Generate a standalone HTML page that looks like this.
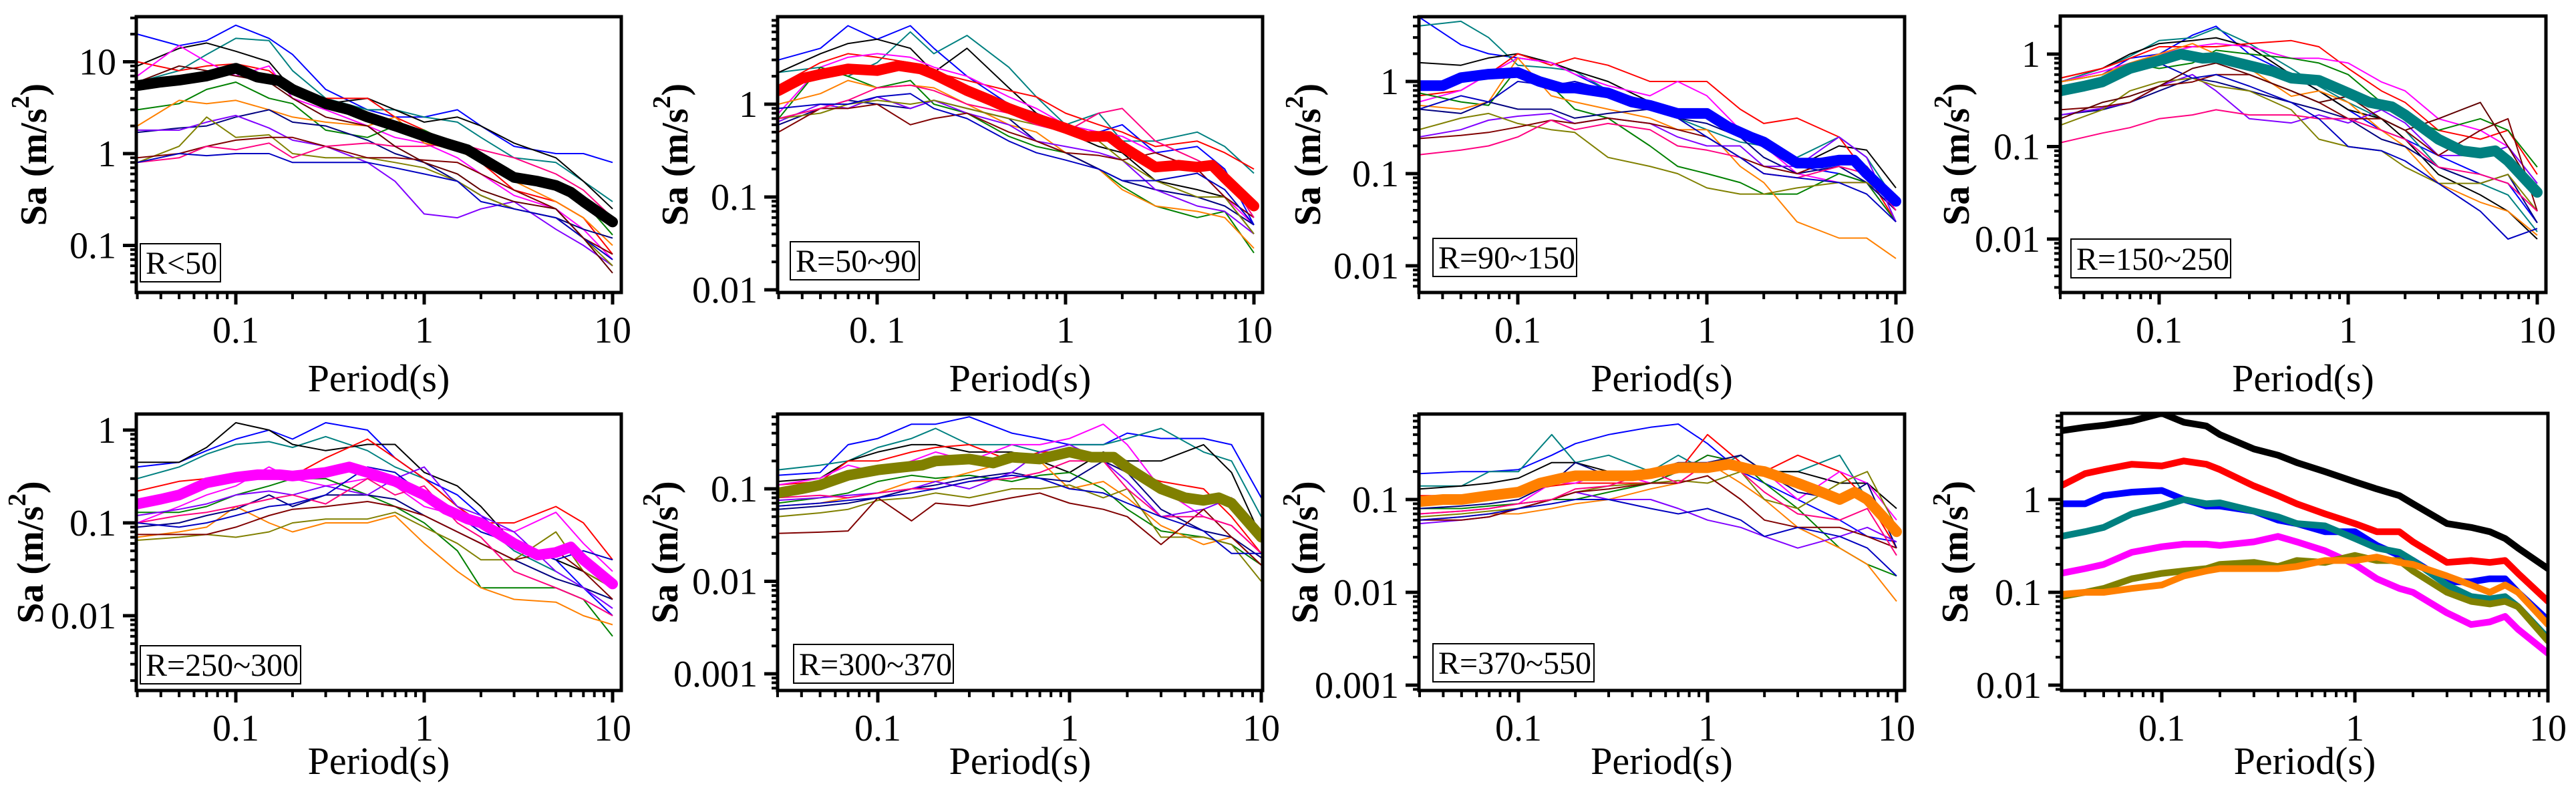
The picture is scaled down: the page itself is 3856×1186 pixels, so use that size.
<!DOCTYPE html>
<html><head><meta charset="utf-8">
<style>
html,body{margin:0;padding:0;background:#fff;}
svg{display:block;font-family:"Liberation Serif",serif;}
svg text{font-family:"Liberation Serif",serif;}
</style></head>
<body>
<svg id="fig" width="3856" height="1186" viewBox="0 0 3856 1186" font-family="Liberation Serif, serif" xmlns="http://www.w3.org/2000/svg"></svg>
<script>
// ---------- DATA ----------
const periodsMean = [0.03,0.04,0.05,0.07,0.1,0.13,0.17,0.2,0.3,0.4,0.5,0.7,1,1.3,1.7,2,3,4,5,6,7,10];
const periodsThin = [0.03,0.05,0.07,0.1,0.15,0.2,0.3,0.5,0.7,1,1.5,2,3,5,7,10];

const meanR50   = [5.5,6,6.3,7,8.5,6.8,6.2,5,3.5,3,2.5,2,1.55,1.3,1.1,0.9,0.55,0.5,0.45,0.38,0.3,0.18];
const meanR90   = [1.4,1.9,2.1,2.4,2.3,2.6,2.4,2.1,1.4,1.1,0.9,0.7,0.55,0.45,0.45,0.35,0.21,0.22,0.21,0.22,0.16,0.08];
const meanR150  = [0.9,0.9,1.1,1.2,1.25,1.0,0.85,0.85,0.75,0.6,0.55,0.45,0.45,0.32,0.25,0.22,0.13,0.13,0.14,0.14,0.1,0.05];
const meanR250  = [0.4,0.45,0.5,0.7,0.85,1.0,0.9,0.92,0.75,0.65,0.55,0.52,0.38,0.3,0.27,0.22,0.12,0.09,0.085,0.09,0.07,0.032];
const meanR300  = [0.16,0.18,0.2,0.27,0.31,0.33,0.33,0.32,0.35,0.4,0.35,0.28,0.2,0.14,0.11,0.1,0.06,0.045,0.048,0.055,0.04,0.022];
const meanR370  = [0.09,0.1,0.11,0.14,0.16,0.17,0.18,0.2,0.21,0.19,0.22,0.21,0.25,0.22,0.22,0.17,0.1,0.08,0.075,0.08,0.07,0.03];
const meanR550  = [0.095,0.1,0.1,0.11,0.12,0.15,0.17,0.18,0.18,0.18,0.19,0.22,0.22,0.24,0.21,0.2,0.15,0.12,0.1,0.12,0.1,0.045];

const thinR50 = [
[20,15,17,25,18,12,5,3,2.5,2.5,3,2,1.2,1,1,0.8],
[6,8,12,18,17,8,4,3,3,2.5,2.2,1.5,0.9,0.8,0.5,0.3],
[9,14,16,13,10,5,3.5,4,3,2.2,2.5,2,1.3,0.9,0.5,0.25],
[10,8,9,9.5,8,5,4,4,2.5,1.8,1.2,0.8,0.4,0.3,0.2,0.08],
[7,15,10,7,9,4,3,2,1.5,1.3,0.9,0.6,0.35,0.25,0.15,0.07],
[3,3.5,5,6,4,3.5,1.8,1.5,2,1.8,1.2,1.0,0.6,0.5,0.3,0.13],
[2,3.8,3.5,3.8,3,2.5,2.2,2,2.5,1.3,1.1,0.8,0.5,0.3,0.2,0.1],
[1.7,1.9,2,2.5,3,2.2,2,1.4,1,0.8,0.5,0.35,0.25,0.2,0.15,0.12],
[1.8,1.8,2.2,2.6,1.9,1.4,1.2,0.8,0.5,0.22,0.2,0.25,0.3,0.15,0.1,0.06],
[0.8,1.2,2.5,1.5,1.6,1,0.9,0.9,0.8,0.7,0.5,0.35,0.25,0.2,0.12,0.06],
[0.9,1.0,1.2,1.4,1.5,1.5,1.2,0.9,0.9,0.85,0.8,0.6,0.4,0.25,0.12,0.08],
[0.8,0.9,1.2,1.1,1.3,0.9,1.2,1.3,1.2,1.2,1.3,1.1,0.9,0.6,0.4,0.2],
[0.8,1.0,0.95,1.0,1.0,0.8,0.8,0.8,0.7,0.6,0.5,0.3,0.25,0.2,0.12,0.07],
[6,9,8,7,6,4,2.5,2,1.2,0.8,0.6,0.4,0.3,0.25,0.12,0.05]];
const thinR90 = [
[3,4,7,5,7,4,2,1,0.8,0.6,0.5,0.6,0.3,0.35,0.2,0.05],
[2.2,2.5,2.0,2.8,6,3.5,5.5,2.5,1.2,0.6,0.8,0.4,0.4,0.5,0.35,0.18],
[2.2,3.5,4.5,5,4,2.2,4,1.5,0.8,0.5,0.35,0.3,0.15,0.12,0.1,0.04],
[1.6,2.8,3.5,3.2,2.8,2.2,1.8,1.4,1.2,0.8,0.6,0.5,0.35,0.4,0.3,0.2],
[0.8,2.5,3.2,3.5,3.2,2.5,2.0,1.2,0.9,0.6,0.5,0.45,0.3,0.2,0.1,0.05],
[0.7,2.5,2.0,1.5,1.8,1.0,0.8,0.45,0.35,0.3,0.2,0.13,0.08,0.06,0.07,0.025],
[1.0,1.3,1.8,1.5,1.6,1.5,1.0,0.6,0.5,0.3,0.2,0.12,0.08,0.07,0.06,0.028],
[0.6,0.9,1.1,1.0,0.9,1.1,0.9,0.7,0.4,0.3,0.2,0.15,0.12,0.1,0.08,0.05],
[0.65,1.0,0.9,1.2,0.9,1.1,0.8,0.6,0.4,0.35,0.3,0.25,0.12,0.08,0.07,0.04],
[0.7,0.8,1.0,1.1,1.0,1.1,0.9,0.7,0.6,0.5,0.4,0.25,0.15,0.1,0.1,0.04],
[0.5,0.9,0.9,1.0,0.6,0.7,0.8,0.5,0.4,0.3,0.28,0.25,0.3,0.2,0.1,0.06],
[0.7,0.9,1.1,1.5,1.6,1.4,1.0,0.8,0.6,0.5,0.8,0.9,0.4,0.25,0.18,0.06],
[0.9,1.0,1.0,1.2,1.3,0.9,0.7,0.4,0.3,0.25,0.2,0.15,0.15,0.18,0.12,0.05]];
const thinR150 = [
[5,2.5,2,1.8,1.6,1.2,0.8,0.6,0.45,0.5,0.3,0.2,0.12,0.1,0.08,0.04],
[4,4.5,3,1.5,1.4,1.3,0.8,0.6,0.4,0.3,0.22,0.2,0.15,0.25,0.15,0.05],
[1.6,1.5,1.8,2.0,1.6,1.3,1.0,0.6,0.45,0.4,0.3,0.2,0.12,0.2,0.18,0.07],
[0.7,0.8,1.2,2.0,1.5,1.8,1.5,1.0,1.0,1.0,0.5,0.35,0.4,0.25,0.1,0.03],
[0.6,0.8,1.2,1.8,1.6,1.2,0.9,0.7,1.0,0.7,0.3,0.2,0.1,0.08,0.08,0.03],
[0.75,0.6,0.55,1.4,0.9,0.5,0.4,0.2,0.12,0.1,0.08,0.06,0.06,0.1,0.08,0.03],
[0.55,0.5,0.6,1.8,0.7,0.6,0.5,0.4,0.3,0.3,0.12,0.08,0.03,0.02,0.02,0.012],
[0.5,0.45,0.6,0.5,0.5,0.4,0.45,0.5,0.4,0.35,0.25,0.15,0.1,0.12,0.08,0.04],
[0.25,0.3,0.38,0.42,0.45,0.35,0.4,0.35,0.25,0.2,0.2,0.12,0.12,0.25,0.15,0.03],
[0.3,0.4,0.45,0.35,0.3,0.28,0.15,0.12,0.1,0.07,0.06,0.06,0.07,0.08,0.08,0.05],
[0.24,0.26,0.28,0.32,0.38,0.35,0.4,0.35,0.3,0.25,0.15,0.12,0.1,0.15,0.12,0.05],
[0.16,0.18,0.2,0.25,0.38,0.3,0.35,0.3,0.2,0.18,0.15,0.1,0.09,0.12,0.1,0.04],
[0.5,0.7,0.6,1.0,0.9,1.0,0.8,0.5,0.4,0.25,0.15,0.1,0.09,0.08,0.06,0.03]];
const thinR250 = [
[0.5,0.6,0.9,1.0,1.6,2.0,1.0,0.6,0.4,0.25,0.15,0.12,0.08,0.05,0.04,0.015],
[0.5,0.7,0.95,1.4,1.5,1.9,1.3,0.7,0.45,0.3,0.2,0.15,0.06,0.04,0.03,0.012],
[0.55,0.7,1.0,1.3,1.4,1.5,1.2,0.6,0.4,0.25,0.2,0.12,0.05,0.03,0.02,0.01],
[0.55,0.7,0.9,1.2,1.2,1.2,1.3,1.4,1.2,0.7,0.4,0.3,0.15,0.12,0.15,0.05],
[0.5,0.65,0.8,1.0,1.2,1.3,1.2,0.9,0.9,0.8,0.5,0.4,0.2,0.15,0.1,0.04],
[0.5,0.6,0.8,0.7,0.8,1.1,1.0,0.9,0.8,0.6,0.3,0.2,0.15,0.2,0.15,0.06],
[0.5,0.6,0.8,1.0,1.3,1.0,0.7,0.35,0.4,0.3,0.15,0.1,0.04,0.025,0.02,0.011],
[0.22,0.25,0.3,0.4,0.55,0.5,0.4,0.3,0.25,0.2,0.12,0.1,0.06,0.04,0.05,0.015],
[0.22,0.26,0.3,0.45,0.6,0.4,0.2,0.18,0.22,0.18,0.25,0.18,0.08,0.08,0.1,0.04],
[0.17,0.25,0.4,0.5,0.55,0.45,0.4,0.25,0.12,0.1,0.09,0.06,0.04,0.04,0.05,0.02],
[0.25,0.27,0.3,0.45,0.5,0.6,0.6,0.4,0.3,0.2,0.2,0.15,0.08,0.15,0.2,0.02],
[0.11,0.14,0.16,0.2,0.22,0.25,0.22,0.22,0.2,0.2,0.15,0.12,0.06,0.05,0.04,0.02],
[0.45,0.55,0.7,0.8,0.55,0.6,0.45,0.3,0.2,0.1,0.09,0.07,0.04,0.02,0.01,0.013],
[0.2,0.3,0.35,0.45,0.7,0.8,0.6,0.4,0.3,0.35,0.2,0.15,0.2,0.3,0.1,0.03]];
const thinR300 = [
[0.4,0.45,0.6,0.8,1.0,0.8,1.2,1.0,0.5,0.3,0.2,0.12,0.06,0.04,0.02,0.01],
[0.3,0.4,0.55,0.7,0.75,0.65,0.85,0.6,0.4,0.3,0.15,0.1,0.05,0.03,0.02,0.015],
[0.45,0.45,0.65,1.2,1.0,0.7,0.6,0.7,0.7,0.35,0.25,0.15,0.06,0.04,0.03,0.02],
[0.22,0.28,0.3,0.3,0.3,0.32,0.5,0.8,0.5,0.3,0.15,0.1,0.1,0.15,0.1,0.04],
[0.1,0.15,0.2,0.25,0.4,0.3,0.25,0.3,0.25,0.15,0.12,0.1,0.08,0.13,0.06,0.03],
[0.13,0.13,0.15,0.2,0.25,0.3,0.3,0.2,0.15,0.1,0.05,0.02,0.02,0.02,0.015,0.006],
[0.07,0.08,0.09,0.15,0.1,0.08,0.1,0.1,0.12,0.06,0.03,0.02,0.015,0.014,0.01,0.008],
[0.09,0.1,0.12,0.14,0.2,0.15,0.2,0.2,0.18,0.12,0.08,0.06,0.04,0.025,0.02,0.015],
[0.12,0.14,0.16,0.2,0.22,0.2,0.25,0.2,0.3,0.4,0.15,0.12,0.08,0.03,0.02,0.012],
[0.065,0.07,0.075,0.07,0.08,0.1,0.11,0.11,0.13,0.09,0.06,0.04,0.04,0.08,0.03,0.02],
[0.075,0.075,0.075,0.09,0.12,0.14,0.15,0.17,0.15,0.12,0.08,0.06,0.04,0.05,0.03,0.015],
[0.1,0.12,0.13,0.15,0.18,0.2,0.16,0.3,0.2,0.25,0.1,0.07,0.03,0.02,0.015,0.01],
[0.1,0.09,0.1,0.12,0.15,0.16,0.2,0.4,0.35,0.2,0.12,0.08,0.06,0.04,0.05,0.04]];
const thinR370 = [
[0.14,0.15,0.3,0.35,0.5,0.5,0.6,0.4,0.35,0.3,0.3,0.4,0.35,0.35,0.3,0.08],
[0.16,0.18,0.2,0.28,0.35,0.45,0.3,0.3,0.25,0.3,0.3,0.35,0.45,0.25,0.2,0.05],
[0.12,0.13,0.2,0.25,0.3,0.3,0.25,0.25,0.2,0.15,0.25,0.2,0.2,0.3,0.15,0.03],
[0.11,0.12,0.2,0.2,0.25,0.28,0.3,0.2,0.25,0.25,0.2,0.15,0.12,0.1,0.05,0.02],
[0.11,0.13,0.18,0.15,0.2,0.25,0.2,0.3,0.3,0.35,0.5,0.3,0.1,0.05,0.04,0.02],
[0.07,0.08,0.09,0.12,0.14,0.13,0.14,0.12,0.14,0.15,0.1,0.06,0.035,0.03,0.025,0.015],
[0.065,0.07,0.08,0.09,0.12,0.12,0.15,0.2,0.2,0.1,0.12,0.08,0.04,0.025,0.03,0.015],
[0.06,0.065,0.07,0.08,0.1,0.11,0.13,0.15,0.13,0.12,0.2,0.15,0.06,0.035,0.03,0.018],
[0.075,0.08,0.085,0.09,0.1,0.12,0.1,0.15,0.25,0.3,0.2,0.12,0.05,0.06,0.08,0.03],
[0.05,0.055,0.06,0.075,0.08,0.09,0.08,0.1,0.1,0.11,0.08,0.1,0.03,0.03,0.025,0.01],
[0.033,0.034,0.035,0.08,0.045,0.07,0.065,0.08,0.09,0.07,0.06,0.05,0.025,0.06,0.03,0.015],
[0.08,0.085,0.08,0.09,0.1,0.1,0.12,0.13,0.15,0.2,0.2,0.1,0.05,0.05,0.04,0.02],
[0.065,0.07,0.075,0.08,0.09,0.1,0.12,0.14,0.13,0.1,0.09,0.07,0.05,0.035,0.02,0.02]];
const thinR550 = [
[0.19,0.2,0.2,0.21,0.3,0.4,0.5,0.6,0.65,0.4,0.2,0.15,0.1,0.06,0.04,0.035],
[0.14,0.14,0.2,0.2,0.5,0.25,0.3,0.2,0.3,0.2,0.3,0.2,0.2,0.3,0.1,0.05],
[0.13,0.14,0.15,0.17,0.25,0.25,0.2,0.2,0.2,0.25,0.3,0.2,0.2,0.15,0.15,0.08],
[0.11,0.11,0.12,0.12,0.14,0.15,0.15,0.15,0.2,0.5,0.25,0.2,0.3,0.2,0.1,0.03],
[0.07,0.075,0.08,0.09,0.15,0.15,0.2,0.15,0.2,0.3,0.25,0.2,0.1,0.2,0.15,0.06],
[0.08,0.08,0.085,0.09,0.1,0.1,0.12,0.15,0.2,0.3,0.25,0.15,0.08,0.03,0.02,0.015],
[0.06,0.065,0.07,0.07,0.08,0.09,0.1,0.13,0.15,0.25,0.15,0.1,0.05,0.03,0.02,0.008],
[0.08,0.085,0.09,0.1,0.15,0.25,0.18,0.2,0.25,0.25,0.3,0.2,0.12,0.1,0.15,0.03],
[0.055,0.06,0.065,0.08,0.1,0.12,0.1,0.1,0.08,0.06,0.05,0.04,0.03,0.04,0.05,0.035],
[0.065,0.07,0.075,0.08,0.1,0.12,0.14,0.15,0.16,0.15,0.2,0.1,0.08,0.15,0.2,0.05],
[0.06,0.06,0.065,0.08,0.1,0.12,0.13,0.15,0.15,0.18,0.1,0.06,0.05,0.05,0.04,0.03],
[0.07,0.075,0.08,0.09,0.1,0.13,0.14,0.2,0.15,0.25,0.2,0.12,0.07,0.06,0.08,0.025],
[0.06,0.065,0.07,0.08,0.09,0.1,0.1,0.08,0.07,0.08,0.06,0.04,0.05,0.04,0.03,0.015]];

const thinColors = ['#0000ff','#008080','#000000','#ff0000','#ff00ff','#008000','#ff8000','#000080','#8000ff','#808000','#800000','#ff0080','#0000c0','#600000'];
const meanColors = ['#000000','#ff0000','#0000ff','#008080','#ff00ff','#808000','#ff8000'];
const rangeLabels = ['R<50','R=50~90','R=90~150','R=150~250','R=250~300','R=300~370','R=370~550'];

// ---------- LAYOUT ----------
const panels = [
 {bx0:204,bx1:930,by0:25,by1:438,x1:635,xd:282,y1:230,yd:137.5,lab:[210,365,120,57],tl:'0.1',ylx:51},
 {bx0:1164,bx1:1890,by0:25,by1:438,x1:1595,xd:282,y1:156,yd:139,lab:[1183,362,193,57],tl:'0. 1',ylx:1011},
 {bx0:2124,bx1:2851,by0:25,by1:438,x1:2555,xd:283,y1:122,yd:138,lab:[2145,357,215,57],tl:'0.1',ylx:1958},
 {bx0:3084,bx1:3811,by0:24,by1:438,x1:3515,xd:283,y1:81,yd:138.5,lab:[3100,358,239,58],tl:'0.1',ylx:2929},
 {bx0:204,bx1:930,by0:620,by1:1034,x1:635,xd:282,y1:644,yd:139,lab:[210,967,240,57],tl:'0.1',ylx:46},
 {bx0:1164,bx1:1890,by0:620,by1:1034,x1:1601,xd:287,y1:593.5,yd:138.5,lab:[1188,965,239,58],tl:'0.1',ylx:996},
 {bx0:2124,bx1:2851,by0:620,by1:1034,x1:2556,xd:283,y1:609,yd:139,lab:[2145,964,241,57],tl:'0.1',ylx:1954},
 {bx0:3086,bx1:3814,by0:619,by1:1034,x1:3525,xd:289,y1:748,yd:139,lab:null,tl:'0.1',ylx:2927}
];
const thinSets=[thinR50,thinR90,thinR150,thinR250,thinR300,thinR370,thinR550];
const meanSets=[meanR50,meanR90,meanR150,meanR250,meanR300,meanR370,meanR550];

const NS='http://www.w3.org/2000/svg';
const svg=document.getElementById('fig');
const FF='Liberation Serif, serif';
function mk(tag,attrs,parent){const e=document.createElementNS(NS,tag);for(const k in attrs)e.setAttribute(k,attrs[k]);(parent||svg).appendChild(e);return e;}
function fmt(v){if(v>=1)return String(Math.round(v));const d=Math.round(-Math.log10(v));return v.toFixed(d);}

panels.forEach((p,i)=>{
  const sx=t=>p.x1+Math.log10(t)*p.xd;
  const sy=v=>p.y1-Math.log10(v)*p.yd;
  const g=mk('g',{});
  
  
  const cp=mk('clipPath',{id:'clip'+i},g);
  mk('rect',{x:p.bx0,y:p.by0,width:p.bx1-p.bx0,height:p.by1-p.by0},cp);
  const plot=mk('g',{'clip-path':'url(#clip'+i+')'},g);
  const pathOf=(ts,vs)=>ts.map((t,k)=>(k?'L':'M')+sx(t).toFixed(1)+' '+sy(vs[k]).toFixed(1)).join(' ');
  if(i<7){
    thinSets[i].forEach((vs,j)=>{
      const l=mk('path',{d:pathOf(periodsThin,vs),fill:'none',stroke:thinColors[j%thinColors.length],'stroke-width':2,'stroke-linejoin':'round'},plot);
      
      
    });
    const m=mk('path',{d:pathOf(periodsMean,meanSets[i]),fill:'none',stroke:meanColors[i],'stroke-width':16,'stroke-linejoin':'round','stroke-linecap':'round'},plot);
    
    
  } else {
    meanSets.forEach((vs,j)=>{
      const m=mk('path',{d:pathOf(periodsMean,vs),fill:'none',stroke:meanColors[j],'stroke-width':10,'stroke-linejoin':'round','stroke-linecap':'round'},plot);
      
      
    });
  }
  const fr=mk('rect',{x:p.bx0,y:p.by0,width:p.bx1-p.bx0,height:p.by1-p.by0,fill:'none',stroke:'#000','stroke-width':5},g);
  
  
  for(let e=-2;e<=1;e++)for(let m=1;m<=9;m++){
    const t=m*Math.pow(10,e);const x=sx(t);
    if(x<p.bx0-1||x>p.bx1+1)continue;
    mk('line',{x1:x,x2:x,y1:p.by1,y2:p.by1+(m===1?18:10),stroke:'#000','stroke-width':m===1?5:4},g);
  }
  [[0.1,p.tl],[1,'1'],[10,'10']].forEach(([t,s])=>{
    const tx=mk('text',{x:sx(t),y:p.by1+75,'font-size':56,'font-family':FF,'text-anchor':'middle'},g);
    tx.textContent=s;
    
    
  });
  for(let e=-4;e<=1;e++)for(let m=1;m<=9;m++){
    const v=m*Math.pow(10,e);const y=sy(v);
    if(y<p.by0-1||y>p.by1+1)continue;
    mk('line',{x1:p.bx0,x2:p.bx0-(m===1?20:9),y1:y,y2:y,stroke:'#000','stroke-width':m===1?5:4},g);
    if(m===1){
      const tx=mk('text',{x:p.bx0-30,y:y+19,'font-size':56,'font-family':FF,'text-anchor':'end'},g);
      tx.textContent=fmt(v);
      
      
    }
  }
  const xt=mk('text',{x:(p.bx0+p.bx1)/2,y:(i<4?p.by1+148:p.by1+125),'font-size':58,'font-family':FF,'text-anchor':'middle'},g);
  xt.textContent='Period(s)';
  
  
  const cy=(p.by0+p.by1)/2;
  const yt=mk('text',{x:p.ylx,y:cy,'font-size':56,'font-family':FF,'font-weight':'bold','text-anchor':'middle','dominant-baseline':'central',transform:'rotate(-90 '+p.ylx+' '+cy+')'},g);
  yt.innerHTML='Sa (m/s<tspan dy="-20" font-size="38">2</tspan><tspan dy="20">)</tspan>';
  
  
  if(p.lab){
    const [lx,ly,lw,lh]=p.lab;
    const lb=mk('rect',{x:lx,y:ly,width:lw,height:lh,fill:'#fff',stroke:'#000','stroke-width':2},g);
    
    
    const lt=mk('text',{x:lx+8,y:ly+lh-12,'font-size':48,'font-family':FF},g);
    lt.textContent=rangeLabels[i];
    
    
  }
});
</script>
</body></html>
